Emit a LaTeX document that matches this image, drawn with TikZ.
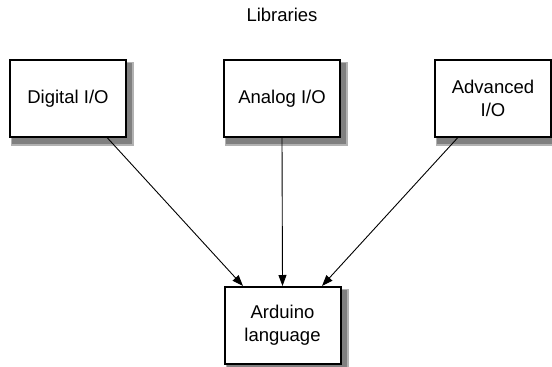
\documentclass[tikz,border=0pt]{standalone}
\usepackage{fontspec}
\setmainfont{Liberation Sans}
\usetikzlibrary{arrows.meta,backgrounds}
\begin{document}
\begin{tikzpicture}[x=1pt,y=-1pt,
		font=\fontsize{18.5}{23}\selectfont,
		libbox/.style={draw, line width=2pt, fill=white, align=center,
			minimum width=116pt, minimum height=77pt, inner sep=0pt},
		link/.style={line width=0.9pt, -{Triangle[length=11pt,width=8pt]}}]
		\useasboundingbox (0,0) rectangle (552,367);
		\node (lib) at (282,15) {Libraries};
		\node[libbox] (dig) at (68,98.5) {Digital I/O};
		\node[libbox] (ana) at (282,98.5) {Analog I/O};
		\node[libbox] (adv) at (493,98.5) {Advanced\\I/O};
		\node[libbox] (ard) at (282.5,325.5) {Arduino\\language};
		% soft shadows behind the boxes
		\begin{scope}[on background layer]
			\foreach \b in {dig,ana,adv,ard} {
				\fill[gray!60] ([shift={(2,3)}]\b.north west) rectangle ([shift={(7,8)}]\b.south east);
				\fill[gray] ([shift={(3,4)}]\b.north west) rectangle ([shift={(5,6)}]\b.south east);
			}
		\end{scope}
		\draw[link] (dig.-45) -- (ard.135);
		\draw[link] (ana.south) -- (ard.north);
		\draw[link] (adv.-132) -- (ard.45);
	\end{tikzpicture}
\end{document}
